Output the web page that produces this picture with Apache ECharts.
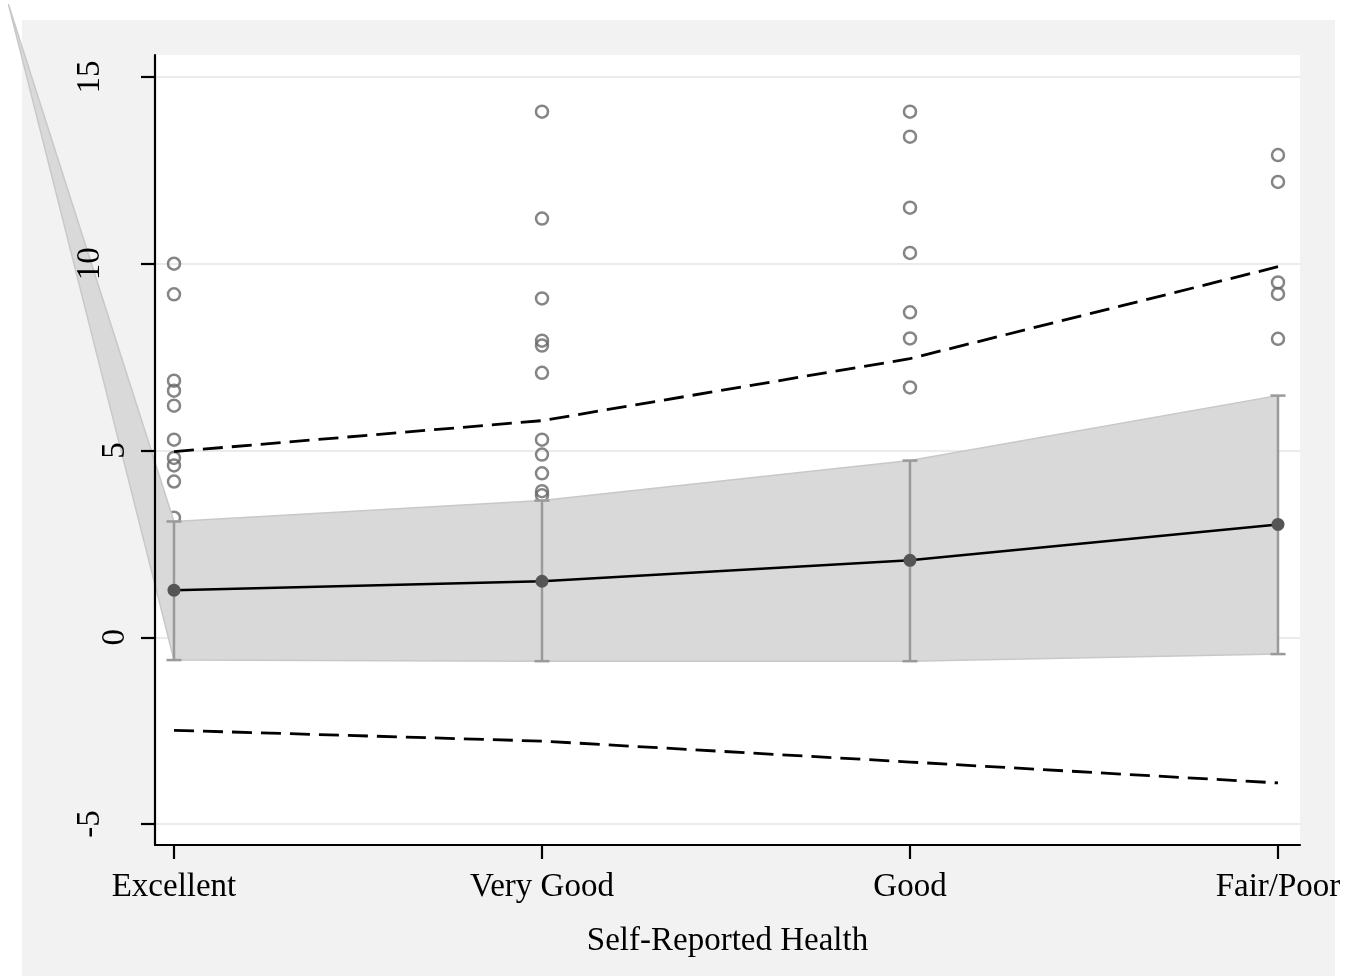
<!DOCTYPE html>
<html>
<head>
<meta charset="utf-8">
<style>
  html, body { margin: 0; padding: 0; background: #ffffff; width: 1362px; height: 976px; overflow: hidden; }
  #panel { position: absolute; left: 22px; top: 20px; width: 1313px; height: 956px; background: #f2f2f2; }
  #chart { position: absolute; left: 0; top: 0; width: 1362px; height: 976px; }
</style>
<script src="https://cdn.jsdelivr.net/npm/echarts@6/dist/echarts.min.js"></script>
</head>
<body>
<div id="panel"></div>
<div id="chart"></div>
<script>
// ---- data ----
const categories = ['Excellent', 'Very Good', 'Good', 'Fair/Poor'];
const yTicks = [-5, 0, 5, 10, 15];
const xTicks = [0, 1, 2, 3];

const meanValues = [1.26, 1.50, 2.06, 3.02];
const ciUpper = [3.10, 3.66, 4.73, 6.47];
const ciLower = [-0.61, -0.64, -0.64, -0.45];
const predUpper = [4.97, 5.80, 7.46, 9.92];
const predLower = [-2.49, -2.78, -3.34, -3.90];
// stray vertex of the shaded band polygon (drawn off to the upper left)
const bandStray = [-0.45, 16.95];

const obsExcellent = [10.0, 9.18, 6.87, 6.60, 6.20, 5.29, 4.80, 4.60, 4.17, 3.20];
const obsVeryGood = [14.07, 11.21, 9.07, 7.94, 7.81, 7.08, 5.29, 4.89, 4.39, 3.91, 3.80];
const obsGood = [14.07, 13.40, 11.50, 10.29, 8.70, 8.00, 6.69];
const obsFairPoor = [12.91, 12.19, 9.50, 9.19, 7.99];

// ---- build series data ----
const obsGroups = [obsExcellent, obsVeryGood, obsGood, obsFairPoor];
const scatterData = [];
obsGroups.forEach((arr, i) => arr.forEach(v => scatterData.push([i, v])));

const meanData = meanValues.map((v, i) => [i, v]);
const predUpperData = predUpper.map((v, i) => [i, v]);
const predLowerData = predLower.map((v, i) => [i, v]);
const errData = ciLower.map((lo, i) => [i, lo, ciUpper[i]]);

const X_MIN = -0.0516, X_MAX = 3.0598;
const Y_MIN = -5.561, Y_MAX = 15.588;
const serif = 'Liberation Serif, Times New Roman, serif';

const chart = echarts.init(document.getElementById('chart'), null, { renderer: 'canvas' });

const option = {
  backgroundColor: 'transparent',
  animation: false,
  grid: {
    left: 155, right: 62, top: 55, bottom: 131,
    show: true, backgroundColor: '#ffffff', borderWidth: 0,
    containLabel: false, outerBoundsMode: 'none'
  },
  xAxis: {
    type: 'value', min: X_MIN, max: X_MAX, z: 10,
    axisLine: { show: true, onZero: false, lineStyle: { color: '#000', width: 2.2 } },
    axisTick: { show: true, customValues: xTicks, length: 14, lineStyle: { color: '#000', width: 2.2 } },
    axisLabel: {
      show: true, customValues: xTicks, margin: 26,
      formatter: v => categories[Math.round(v)],
      fontFamily: serif, fontSize: 33, color: '#000'
    },
    splitLine: { show: false },
    name: 'Self-Reported Health', nameLocation: 'middle', nameGap: 80,
    nameTextStyle: { fontFamily: serif, fontSize: 33, color: '#000' }
  },
  yAxis: [
    {
      type: 'value', min: Y_MIN, max: Y_MAX, position: 'left', z: 0,
      axisLine: { show: false, onZero: false },
      axisTick: { show: false, customValues: yTicks },
      axisLabel: { show: false, customValues: yTicks },
      splitLine: { show: true, lineStyle: { color: '#ebebeb', width: 2 } }
    },
    {
      type: 'value', min: Y_MIN, max: Y_MAX, position: 'left', z: 10,
      axisLine: { show: true, onZero: false, lineStyle: { color: '#000', width: 2.2 } },
      axisTick: { show: true, customValues: yTicks, length: 14, lineStyle: { color: '#000', width: 2.2 } },
      axisLabel: {
        show: true, customValues: yTicks, rotate: 90, margin: 40,
        align: 'center', verticalAlign: 'middle', lineHeight: 50,
        formatter: v => { const s = String(Math.round(v)); return s.length > 1 ? s + '\n' : s; },
        fontFamily: serif, fontSize: 33, color: '#000'
      },
      splitLine: { show: false }
    }
  ],
  series: [
    {
      name: 'observed', type: 'scatter', z: 1, silent: true,
      data: scatterData, symbol: 'circle', symbolSize: 12,
      itemStyle: { color: 'rgba(0,0,0,0)', borderColor: '#666666', borderWidth: 2.5 }
    },
    {
      name: 'band', type: 'custom', z: 2, silent: true, clip: false,
      data: [[0]],
      renderItem: function (params, api) {
        const pts = [api.coord(bandStray)];
        for (let i = 0; i < ciUpper.length; i++) pts.push(api.coord([i, ciUpper[i]]));
        for (let i = ciLower.length - 1; i >= 0; i--) pts.push(api.coord([i, ciLower[i]]));
        return {
          type: 'polygon',
          shape: { points: pts },
          style: { fill: '#d9d9d9', stroke: '#c8c8c8', lineWidth: 1.5 }
        };
      }
    },
    {
      name: 'predUpper', type: 'line', z: 3, silent: true, symbol: 'none',
      data: predUpperData,
      lineStyle: { color: '#000', width: 2.8, type: [20, 9] }
    },
    {
      name: 'predLower', type: 'line', z: 3, silent: true, symbol: 'none',
      data: predLowerData,
      lineStyle: { color: '#000', width: 2.8, type: [20, 9] }
    },
    {
      name: 'ci', type: 'custom', z: 4, silent: true, clip: false,
      data: errData,
      renderItem: function (params, api) {
        const x = api.value(0);
        const lo = api.coord([x, api.value(1)]);
        const hi = api.coord([x, api.value(2)]);
        const hw = 7.5;
        const st = { stroke: '#9a9a9a', lineWidth: 2.5 };
        return {
          type: 'group',
          children: [
            { type: 'line', shape: { x1: lo[0], y1: lo[1], x2: hi[0], y2: hi[1] }, style: st },
            { type: 'line', shape: { x1: lo[0] - hw, y1: lo[1], x2: lo[0] + hw, y2: lo[1] }, style: st },
            { type: 'line', shape: { x1: hi[0] - hw, y1: hi[1], x2: hi[0] + hw, y2: hi[1] }, style: st }
          ]
        };
      }
    },
    {
      name: 'mean', type: 'line', z: 5, silent: true,
      data: meanData, symbol: 'circle', symbolSize: 13, showSymbol: true,
      itemStyle: { color: '#555555', borderWidth: 0 },
      lineStyle: { color: '#000', width: 2.6 }
    }
  ]
};

chart.setOption(option);
</script>
</body>
</html>
